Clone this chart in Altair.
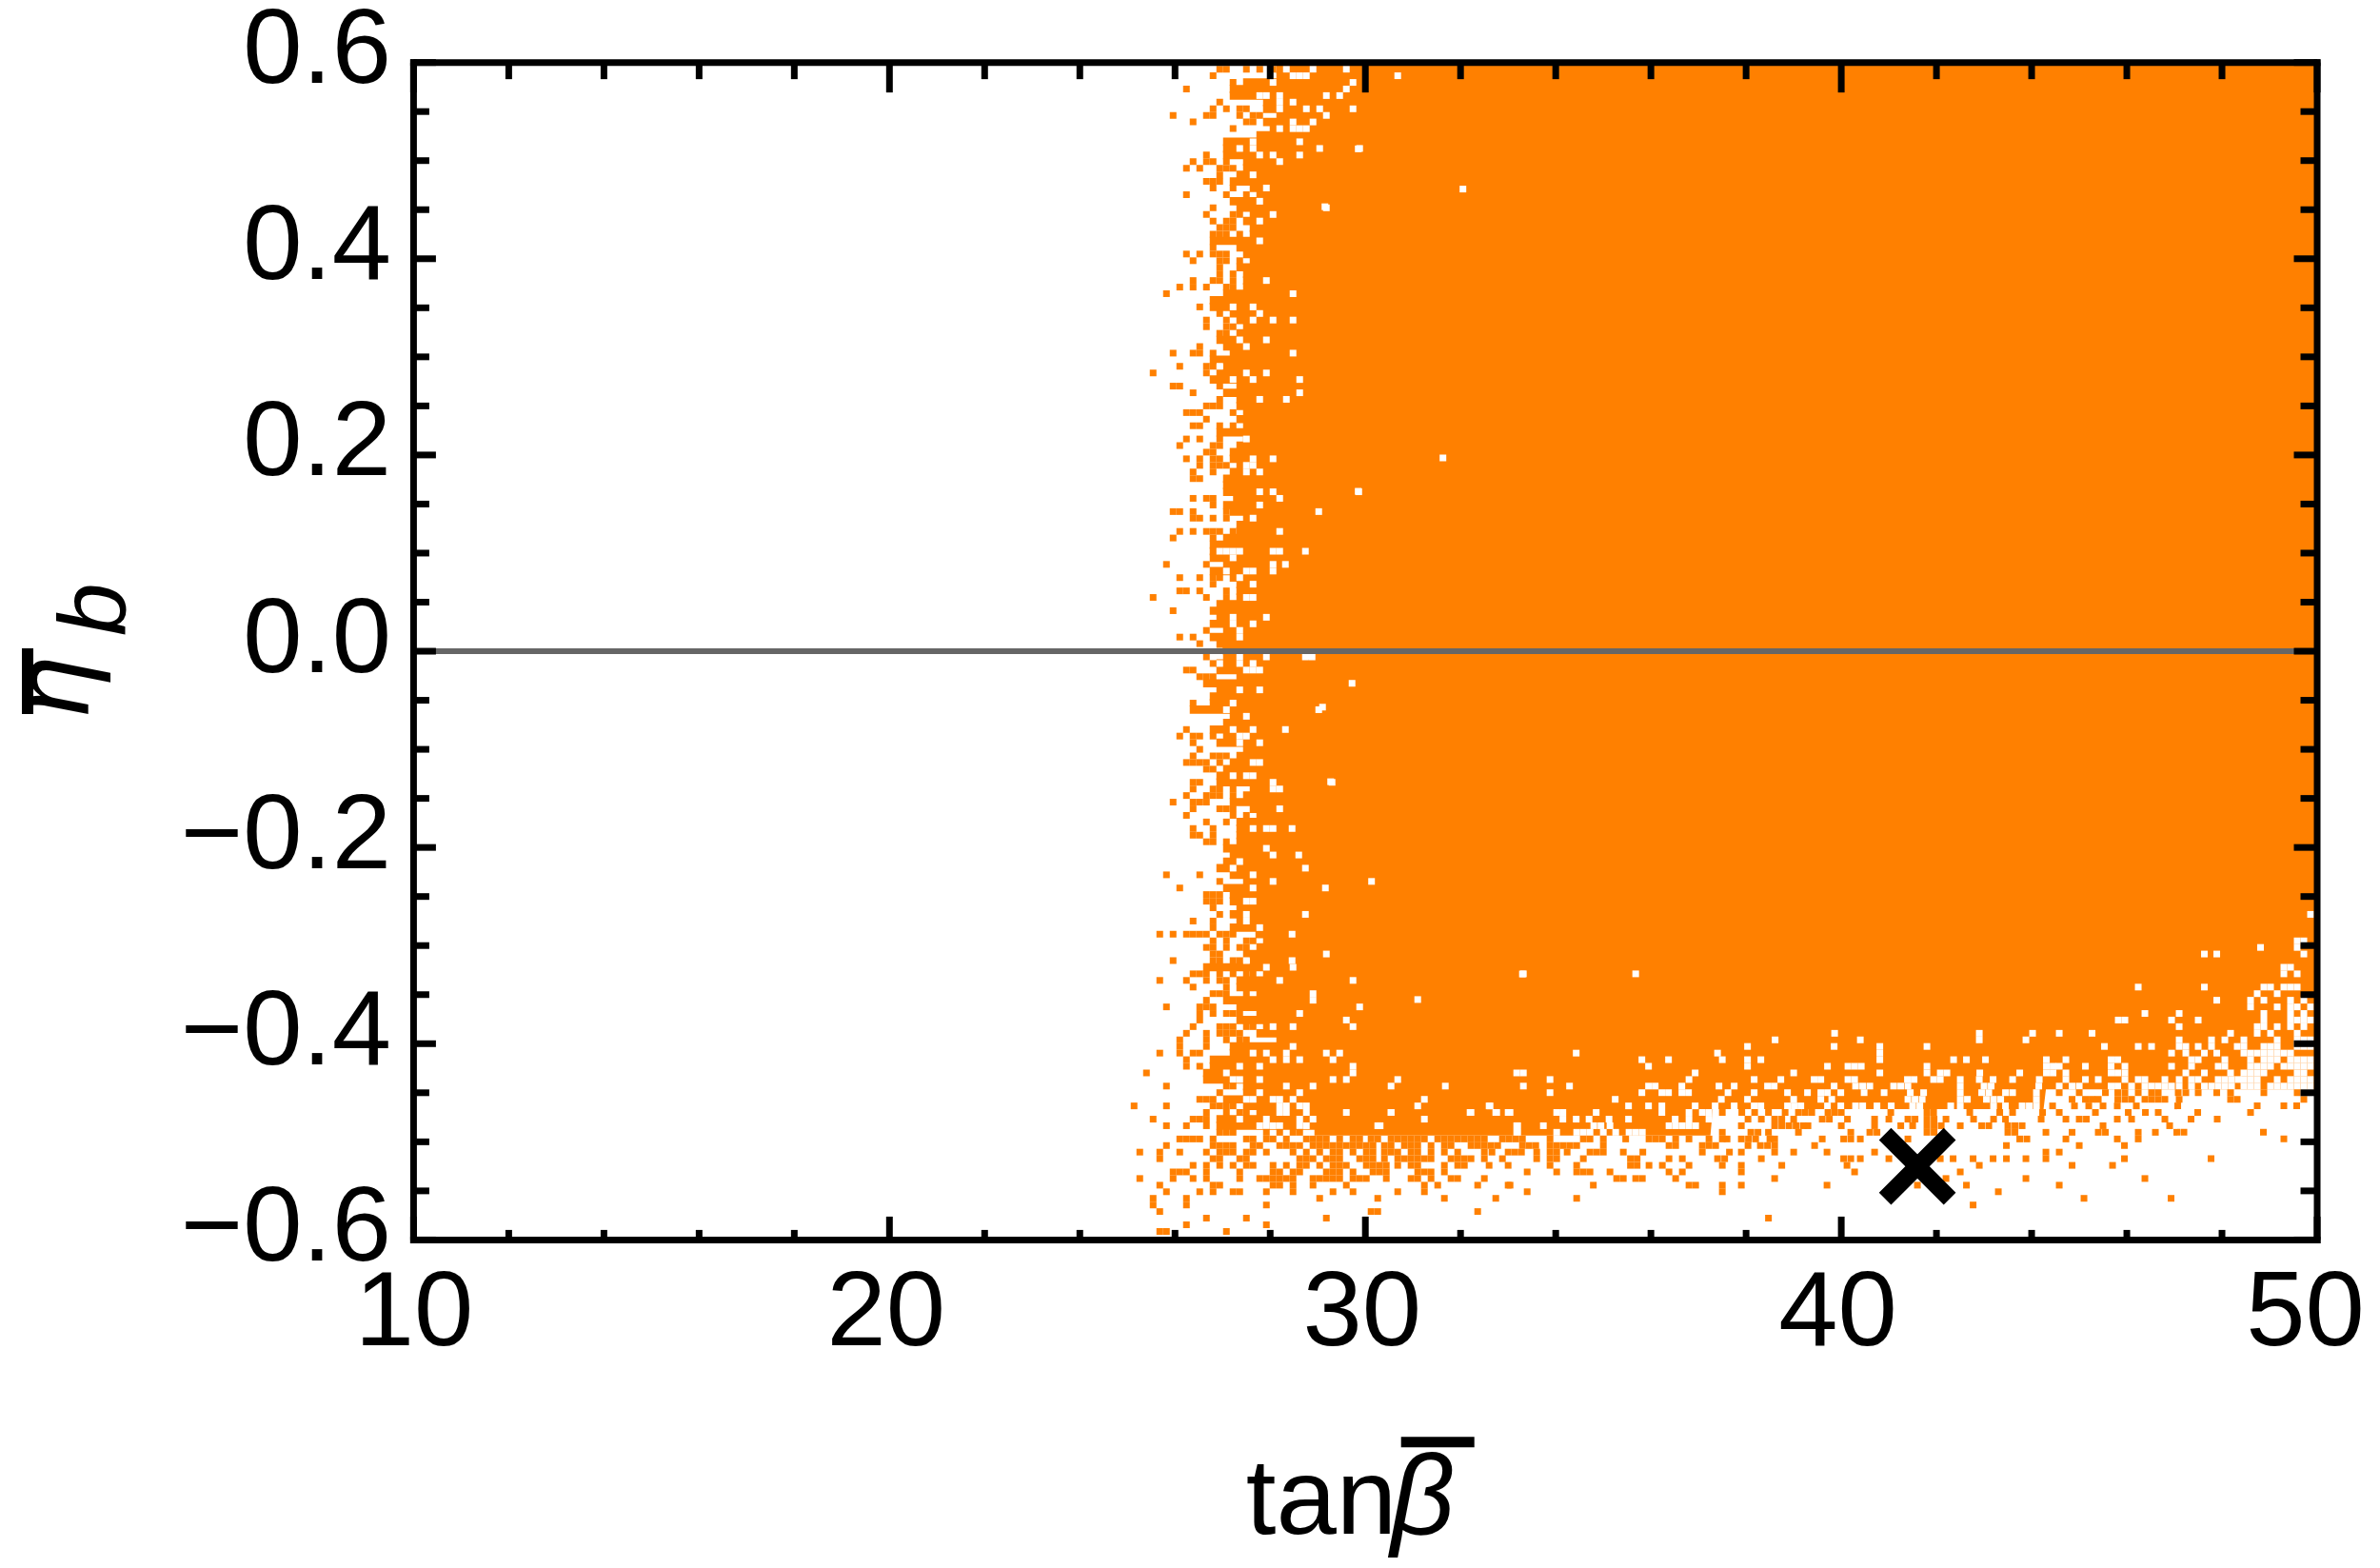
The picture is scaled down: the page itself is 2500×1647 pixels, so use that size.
import altair as alt
import pandas as pd

ORANGE = "#ff8000"
x_major = [10, 20, 30, 40, 50]
x_minor = [12, 14, 16, 18, 22, 24, 26, 28, 32, 34, 36, 38, 42, 44, 46, 48]
y_major = [-0.6, -0.4, -0.2, 0.0, 0.2, 0.4, 0.6]
y_minor = [-0.55, -0.5, -0.45, -0.35, -0.3, -0.25, -0.15, -0.1, -0.05, 0.05, 0.1, 0.15, 0.25, 0.3, 0.35, 0.45, 0.5, 0.55]

# body: tanb, lower edge of the solid orange
body_tanb = [28.93, 37.25, 37.3, 44.25, 44.3, 50.0]
body_eta = [-0.4937, -0.4937, -0.4668, -0.4668, -0.4466, -0.4466]

# eta of row, tanb where the solid part of the row starts, stray orange cells, white cells
rows = [
(.5932,28.13,[26.94,27.08,27.50,27.78,28.06],[28.34,28.90,29.60]),
(.5865,28.13,[26.80],[28.48,28.62,28.76,30.68]),
(.5797,27.43,[27.22],[28.06,29.74]),
(.5730,27.15,[26.24],[29.60]),
(.5663,27.15,[],[27.78,27.92,28.20,29.18,29.46]),
(.5596,27.85,[26.94],[28.20,28.48]),
(.5528,27.85,[26.80,27.08,27.36,27.50],[28.20,28.76,29.04,29.74]),
(.5461,28.13,[25.96,26.66,26.80,27.36,27.64,27.78],[29.18]),
(.5394,27.85,[26.38,27.50,27.64],[28.48,28.90]),
(.5326,27.99,[27.22],[28.20,28.48,28.62,28.76]),
(.5259,27.71,[],[]),
(.5192,27.01,[],[27.64,28.62]),
(.5124,27.01,[],[27.36,27.64,29.04,29.88]),
(.5057,27.01,[26.66],[27.78,28.06,28.62]),
(.4990,27.43,[26.38,26.66,26.80,27.08],[28.20]),
(.4923,27.43,[26.24,26.52,26.94,27.08,27.22],[]),
(.4855,27.29,[26.94],[27.64]),
(.4788,27.15,[26.66,26.80,26.94],[]),
(.4721,27.57,[26.80,27.22],[27.92]),
(.4653,27.71,[26.24,27.08,27.50],[]),
(.4586,27.15,[],[27.78]),
(.4519,27.29,[26.80],[29.18]),
(.4451,27.57,[26.66,27.22,27.36],[28.06]),
(.4384,27.43,[26.80,27.08,27.22],[27.78]),
(.4317,27.57,[26.94,27.08,27.22],[]),
(.4250,27.57,[26.80,26.94,27.08,27.36],[]),
(.4182,26.73,[],[27.78]),
(.4115,27.29,[26.80],[]),
(.4048,27.43,[26.24,26.52,26.80,26.94,27.08],[]),
(.3980,27.57,[26.38,26.94,27.08,27.36],[]),
(.3913,27.29,[26.94],[]),
(.3846,27.43,[26.94,27.22],[]),
(.3778,27.43,[26.38,26.80,26.94,27.22],[27.92]),
(.3711,27.43,[26.10,26.38,26.66,27.08,27.22],[]),
(.3644,27.01,[25.82],[28.48]),
(.3577,26.73,[],[]),
(.3509,26.73,[26.52],[27.22,27.64]),
(.3442,27.15,[26.94],[27.78]),
(.3375,27.29,[26.66,27.08],[27.64,28.06,28.48]),
(.3307,27.43,[26.66,27.08,27.22],[]),
(.3240,27.29,[26.94,27.08],[]),
(.3173,26.87,[],[27.36,27.92]),
(.3105,27.01,[26.52],[27.50]),
(.3038,27.15,[25.96,26.38,26.52,26.80],[28.48]),
(.2971,26.73,[],[]),
(.2904,27.01,[26.10,26.66,26.80],[26.94]),
(.2836,26.87,[25.54,26.66],[27.50,27.92]),
(.2769,26.73,[],[27.22,27.64,28.62]),
(.2702,27.29,[25.96,26.10,26.94],[]),
(.2634,27.01,[26.38],[28.62]),
(.2567,27.29,[26.94],[27.78,28.34]),
(.2500,27.29,[26.66,26.80,26.94],[]),
(.2432,27.43,[26.24,26.38,26.52,27.22],[]),
(.2365,27.29,[26.66],[]),
(.2298,27.43,[26.38,26.52,26.94,27.22],[]),
(.2231,26.87,[],[]),
(.2163,27.43,[26.24,26.52,26.94],[27.50]),
(.2096,27.29,[26.10,26.80,26.94],[]),
(.2029,27.15,[26.66,26.80],[]),
(.1961,27.15,[26.24,26.52,26.80,26.94],[27.64,28.06]),
(.1894,27.29,[26.52,26.80,26.94,27.08],[27.50,27.64]),
(.1827,27.15,[26.38,26.80],[27.50,27.78]),
(.1759,27.01,[26.38,26.52],[]),
(.1692,27.01,[],[]),
(.1625,27.01,[],[27.78,28.06,29.86]),
(.1558,27.22,[26.38,26.66,26.80],[28.20]),
(.1490,27.01,[26.80],[27.78]),
(.1423,27.15,[25.96,26.10,26.38,27.08],[29.02]),
(.1356,27.43,[26.38,26.52,26.80,27.08],[27.64]),
(.1288,27.29,[],[]),
(.1221,27.29,[26.10,26.38,26.66,26.80,26.94,27.22],[28.20]),
(.1154,27.01,[25.96,26.80],[]),
(.1086,26.73,[],[]),
(.1019,26.73,[],[26.94,27.08,27.22,27.36,28.06,28.20,28.74]),
(.0952,26.73,[],[27.22]),
(.0885,27.01,[25.82,26.66],[28.06,28.32]),
(.0817,26.73,[],[27.08,27.50,27.64,28.06]),
(.0750,27.15,[26.10,26.52,26.80,26.94],[27.36]),
(.0683,27.29,[26.80],[27.64]),
(.0615,27.29,[26.10,26.24,26.52,27.08],[]),
(.0548,27.29,[25.54,26.66,27.08],[27.50,27.64]),
(.0481,26.87,[],[]),
(.0413,26.73,[25.96],[]),
(.0346,26.87,[],[27.22,27.92]),
(.0279,26.73,[],[27.22,27.64]),
(.0212,27.01,[26.66],[27.36]),
(.0144,26.73,[26.10,26.38],[27.36]),
(.0077,26.87,[26.52],[]),
(.0010,27.0,[],[]),
(-.0058,27.01,[26.66],[27.36,27.92,28.74,28.88]),
(-.0125,26.87,[26.80],[26.94,27.36,27.64]),
(-.0192,26.87,[26.24,26.38],[27.50,27.64,27.78]),
(-.0260,27.29,[26.52,26.66,26.80],[]),
(-.0327,26.59,[],[29.72]),
(-.0394,26.87,[],[27.36,27.78]),
(-.0461,26.73,[],[]),
(-.0529,26.73,[26.38],[27.22]),
(-.0596,26.31,[],[27.08,29.02]),
(-.0663,27.15,[],[27.50]),
(-.0731,27.01,[],[]),
(-.0798,26.73,[26.24],[27.22,27.64,28.32]),
(-.0865,27.01,[26.10,26.38,26.52,26.80],[27.36,27.50]),
(-.0933,26.87,[26.38],[27.36,27.78]),
(-.1000,27.43,[26.52],[]),
(-.1067,27.29,[26.38,26.80,26.94,27.08],[]),
(-.1134,27.15,[26.24,26.38,26.52,26.66,26.94],[27.64,27.78]),
(-.1202,27.01,[26.66,26.80],[]),
(-.1269,26.87,[],[27.22,27.50,27.64]),
(-.1336,26.87,[26.38,26.52],[28.06,29.30]),
(-.1404,27.57,[26.38,26.80,26.94,27.22],[28.06,28.20]),
(-.1471,27.43,[26.24,26.66,26.80,26.94,27.22],[]),
(-.1538,27.15,[25.96,26.38,26.52,26.66],[]),
(-.1606,27.57,[26.38,26.94,27.08,27.22],[28.20]),
(-.1673,27.71,[26.24,27.22,27.50],[]),
(-.1740,27.29,[26.66,27.08],[]),
(-.1807,27.29,[26.38,26.80],[27.64,27.92,28.06,28.46]),
(-.1875,27.29,[26.38,26.52,26.80],[]),
(-.1942,27.29,[26.66,26.80,27.08],[]),
(-.2009,27.01,[],[27.92]),
(-.2077,27.15,[],[28.06,28.60]),
(-.2144,27.01,[],[27.36]),
(-.2211,26.87,[],[27.22,28.74]),
(-.2279,27.15,[25.82,26.52],[27.64]),
(-.2346,27.43,[26.94],[28.06,30.13]),
(-.2413,27.01,[26.10],[27.64,29.16]),
(-.2480,27.15,[26.66,26.80,26.94],[]),
(-.2548,27.15,[26.66,26.80,26.94],[27.50,27.64]),
(-.2615,27.29,[26.80],[]),
(-.2682,27.15,[26.94],[27.50,28.74]),
(-.2750,27.29,[26.38,26.80],[27.50]),
(-.2817,27.15,[26.80],[27.78]),
(-.2884,27.69,[25.68,25.96,26.24,26.38,26.52,26.66,26.94,27.08,27.22],[28.46]),
(-.2952,27.85,[26.80,27.08,27.50,27.64],[]),
(-.3019,27.71,[26.66,26.80,27.08,27.36,27.50],[]),
(-.3086,27.43,[26.80,26.94],[29.18]),
(-.3153,27.57,[25.96,26.80,26.94,27.22,27.36],[27.50,28.46]),
(-.3221,26.59,[],[27.92,28.48]),
(-.3288,27.85,[26.38,26.52,26.66,26.94,27.22,27.50,27.64],[]),
(-.3355,27.29,[25.68,26.24,26.66,26.94,27.08],[28.20,29.74]),
(-.3423,27.29,[26.38,27.08],[]),
(-.3490,27.71,[26.80,26.94,27.08,27.50],[28.90]),
(-.3557,27.01,[26.66],[28.90]),
(-.3625,27.29,[25.82,26.52,26.66,26.80],[29.88]),
(-.3692,27.71,[26.52,26.80,27.08,27.22,27.36],[28.62]),
(-.3759,27.29,[26.52],[29.60]),
(-.3826,27.85,[26.38,26.94,27.08,27.22,27.50,27.64],[28.06,28.48,29.74]),
(-.3894,27.71,[26.24,26.66,26.94,27.08,27.22,27.36],[]),
(-.3961,28.13,[26.10,26.66,27.08,27.36,27.50],[]),
(-.4028,27.15,[26.10,26.66],[28.48]),
(-.4096,27.15,[25.68,26.10,26.38,26.52],[27.64,27.92,28.34,29.18,29.46]),
(-.4163,26.73,[26.24],[28.06,28.34,28.62,29.32]),
(-.4230,26.73,[26.24,26.52],[27.36,27.78,29.74]),
(-.4298,26.59,[25.40],[27.08,29.74]),
(-.4365,26.59,[],[27.22,27.36,27.78,29.32,29.60,30.68]),
(-.4432,27.43,[25.82,27.08,27.22],[28.34,28.90,30.54,31.68]),
(-.4499,27.43,[26.94],[27.78,28.62]),
(-.4567,27.01,[26.52,26.66,26.80],[27.50,27.64,28.06,28.20,28.48,31.24]),
(-.4634,27.43,[25.14,25.82,26.80,26.94,27.08,27.22],[28.20,28.34,28.62,28.76,31.10,32.60]),
(-.4701,27.71,[26.66,27.08,27.36,27.50],[28.20,28.34,28.76,29.60,30.54,32.20,32.74,33.00]),
(-.4769,26.87,[25.54,26.38,26.52,26.66],[27.36,27.92,28.62,28.90,31.24]),
(-.4836,26.87,[25.82,26.24,26.66],[27.78,27.92,28.06,28.20,28.62,28.76,30.26,33.20]),
(-.4903,29.0,[26.94,27.08,27.22,27.92,28.20,28.48,28.62],[33.20]),
(-.4971,29.0,[26.10,26.24,26.38,26.52,26.80,27.50,27.64,27.92,28.06,28.34,28.76,28.90,29.04,29.18,29.46,29.74,29.88,30.12,30.26,30.54,30.68,30.82,30.96,31.10,31.24,31.52,31.66,31.80,31.94,32.08,32.22,32.36,32.50,32.88,33.02,33.16,33.30],[]),
(-.5038,29.0,[25.82,26.80,26.94,27.08,27.22,27.64,27.78,28.20,28.34,28.48,28.62,28.90,29.04,29.18,29.32,29.46,29.60,29.74,29.88,30.02,30.16,30.40,30.54,30.82,30.96,31.10,31.38,31.66,31.80,32.22,32.36,32.50,32.64,32.78],[]),
(-.5105,29.0,[25.26,25.68,26.10,26.66,26.94,27.08,27.22,27.50,27.64,27.92,28.48,28.76,29.04,29.32,29.46,29.74,30.02,30.16,30.40,30.54,30.68,30.96,31.10,31.38,31.66,31.94,32.50,32.66,33.00,33.14,33.28],[]),
(-.5172,29.0,[25.68,26.80,26.94,27.36,27.50,28.62,28.76,28.90,29.18,29.32,29.46,29.88,30.02,30.16,30.40,30.68,30.82,30.96,31.10,31.24,31.38,31.80,31.94,32.08,32.22,32.50,32.88],[]),
(-.5240,29.0,[26.38,26.66,26.94,27.22,27.50,27.64,28.06,28.34,28.62,28.76,29.04,29.32,29.46,29.60,30.02,30.16,30.30,30.44,30.68,30.96,31.10,31.66,31.94,32.08,32.60,33.00],[]),
(-.5307,29.0,[25.96,26.10,26.24,26.66,27.36,28.06,28.20,28.48,28.62,29.18,29.32,29.46,29.74,30.16,30.30,30.44,31.10,31.24,31.38,31.66],[]),
(-.5374,29.0,[25.26,25.96,26.38,26.66,27.36,27.78,27.92,28.06,28.20,28.34,28.48,28.90,29.04,29.18,29.32,29.46,29.74,29.88,30.02,30.44,30.96,31.10,31.38,31.80,31.94,32.50],[]),
(-.5442,29.0,[25.68,26.80,26.94,28.06,28.20,28.48,28.90,29.60,31.24,31.52,32.36,33.00],[]),
(-.5509,29.0,[25.82,26.52,26.80,27.22,27.36,27.92,28.48,29.32,29.74,30.68,31.24],[]),
(-.5576,29.0,[25.54,26.24,29.04,30.26,31.66,32.74],[]),
(-.5644,29.0,[25.54,26.24,27.92],[]),
(-.5711,29.0,[25.68,30.12,30.26,32.36],[]),
(-.5778,29.0,[26.66,27.50,29.18],[]),
(-.5845,29.0,[26.24,27.92],[]),
(-.5913,29.0,[25.68,25.82,27.08],[]),
]

# further cells to the right, eta of row with its tanb values
extra_white = [
(.4710,[32.05]),(.4530,[29.15]),(.5120,[29.85]),(.1970,[31.63]),(.1630,[29.85]),(-.0570,[29.10]),
(-.1330,[29.27]),(-.0050,[28.80]),(-.3290,[33.30]),(-.3550,[31.10]),
(-.3288,[33.32,35.68]),
(-.3894,[39.86,42.90,44.02]),
(-.3961,[38.61,40.40,42.90,43.88]),
(-.4028,[38.03,39.85,40.81,41.80]),
(-.4096,[34.43,37.40,40.81]),
(-.4163,[35.81,36.37,37.50,38.03,38.31,40.81,42.36,42.63,43.03]),
(-.4230,[35.95,38.03,39.71,40.14,40.28,40.42,41.80]),
(-.4298,[33.18,33.32,36.93,39.00,40.81,41.80,42.08,42.22,42.91,43.75]),
(-.4365,[33.88,36.80,38.17,38.73,39.43,39.57,40.14,40.28,41.39,41.53,41.94,42.08,42.50,42.90,43.19,43.60,44.16]),
(-.4432,[33.32,34.29,35.95,36.09,36.65,37.43,37.75,38.45,38.59,39.85,40.30,40.45,40.60,41.10,41.25,41.40,42.50,43.00,43.15,44.15]),
(-.4499,[33.88,35.81,36.23,36.37,36.65,36.79,37.62,38.17,38.87,39.29,39.57,39.71,39.99,40.48,40.90,41.45,41.73,42.50,42.95,43.10,43.45,43.60,44.10]),
(-.4567,[35.25,37.48,38.03,39.00,39.57,39.80,41.40,41.55,41.70,42.50,42.65,43.05,43.20,43.35,44.10]),
(-.4634,[32.62,35.53,35.95,36.23,36.93,37.35,37.75,38.17,38.31,38.87,39.01,39.15,39.71,39.99,40.30,40.45,40.75,41.05,41.50,41.65,42.30,42.50,43.20,43.45,43.80,43.95,44.10]),
(-.4701,[30.54,32.22,32.76,33.04,34.02,34.15,34.85,36.23,36.80,37.08,37.22]),
(-.4769,[34.15,34.43,34.70,35.12,35.53,36.51,36.80,37.22]),
(-.4836,[30.31,33.18,33.74,34.80,34.95,35.14,36.38,36.52,36.66,36.80,36.94]),
(-.4903,[33.18,34.02,34.44,34.58,34.72,35.00,35.26,35.54,35.68,35.82]),
# lower right corner
(-.2682,[49.86]),(-.2952,[49.58,49.72]),(-.3019,[48.81,49.58]),(-.3086,[47.63,47.89,49.72]),
(-.3221,[49.30,49.44]),(-.3288,[49.30,49.58]),
(-.3423,[46.24,47.63,48.88,49.02,49.30,49.44,49.58]),(-.3490,[48.74,49.16]),
(-.3557,[47.89,48.60,48.88,49.44,49.72]),(-.3625,[48.60,49.16,49.44,49.58,49.86]),
(-.3692,[46.38,47.10,48.88,49.44,49.72]),(-.3759,[45.82,45.96,46.94,47.50,48.88,49.44,49.58,49.72,49.86]),
(-.3826,[47.10,48.74,48.88,49.16,49.44,49.72]),(-.3894,[44.58,45.27,48.18,48.74,49.02,49.58]),
(-.3961,[47.10,47.78,48.06,48.46,49.16,49.58,49.72,49.86]),
(-.4028,[45.53,46.24,46.52,47.10,47.24,47.50,47.78,48.32,48.46,48.88,49.02,49.16,49.58,49.72,49.86]),
(-.4096,[46.94,47.24,47.63,47.89,48.46,48.60,48.74,48.88,49.02,49.16,49.30,49.44]),
(-.4163,[44.31,44.72,45.67,45.81,47.36,47.50,48.06,48.60,48.88,49.02,49.16,49.44,49.58,49.72,49.86]),
(-.4230,[44.31,44.45,44.58,45.13,45.67,45.96,46.94,47.36,47.92,48.06,48.60,48.74,48.88,49.02,49.30,49.44,49.58,49.72,49.86]),
(-.4298,[44.31,44.45,44.72,45.67,45.81,45.96,47.24,47.63,48.18,48.46,48.60,48.74,48.88,49.58,49.72]),
(-.4365,[44.72,45.13,45.40,45.96,46.24,46.38,46.80,47.10,47.36,47.50,47.92,48.06,48.20,48.34,48.46,48.60,48.74,49.16,49.44,49.58,49.72,49.86]),
(-.4432,[44.58,44.85,45.00,45.67,45.81,46.10,46.38,46.52,46.66,46.80,46.94,47.10,47.36,47.63,47.78,47.92,48.06,48.20,48.46,48.60,48.74,49.02,49.16,49.30,49.44,49.58,49.72,49.86]),
]
extra_orange = [
(-.4499,[44.58,45.00,45.55,45.81,45.96,46.24,46.52,46.66,47.08,47.24,47.50,47.89,48.18,48.88,49.58]),
(-.4567,[44.85,45.13,45.27,45.40,45.81,45.96,46.10,46.38,46.52,46.66,46.80,47.10,48.18,48.32,49.72]),
(-.4634,[44.44,44.90,45.20,45.50,45.80,46.20,47.07,48.74,49.30,49.57]),
(-.4701,[37.50,37.91,38.18,38.47,38.82,39.10,39.24,39.38,39.72,39.86,40.00,41.04,41.80,41.94,42.70,43.33,43.60,44.23,44.58,45.34,46.03,46.39,46.66,47.49,48.60]),
(-.4769,[38.04,38.32,38.60,38.75,39.00,39.60,39.75,40.13,40.70,41.00,41.40,41.55,41.80,41.95,42.20,42.78,43.20,43.45,44.20,44.72,45.00,45.15,45.80,46.10,46.80,47.35,47.90]),
(-.4836,[37.90,38.60,38.75,38.90,39.05,39.20,39.30,40.00,40.70,41.25,41.50,41.80,41.95,42.10,42.50,42.95,43.10,43.50,43.65,43.80,45.50,46.90]),
(-.4903,[37.50,38.10,38.25,38.47,39.10,40.20,40.60,40.75,41.80,41.95,43.50,43.65,44.30,44.85,45.40,45.55,46.24,46.60,47.05,47.20,48.87]),
(-.4971,[33.88,34.58,34.72,35.00,35.47,35.96,36.10,36.24,36.52,36.80,37.22,37.50,37.60,37.90,38.05,38.20,38.50,38.60,39.60,40.05,40.20,40.40,41.40,43.75,43.90,44.72,45.80,46.24,49.30]),
(-.5038,[33.30,33.44,33.58,33.88,34.02,34.16,34.30,34.44,35.00,36.38,36.52,37.08,37.22,37.36,38.04,38.30,38.45,38.60,39.44,43.47,45.00,45.95]),
(-.5105,[33.60,33.88,34.02,34.24,34.72,34.86,35.00,35.42,35.83,37.08,37.65,37.90,38.60,39.00,39.70,40.70,44.30,44.58]),
(-.5172,[33.60,33.88,34.02,34.58,35.57,35.71,36.38,36.66,37.40,37.55,38.32,40.05,40.20,40.40,41.00,42.08,42.35,42.77,43.19,43.47,43.88,44.30,45.95,47.77]),
(-.5240,[33.88,34.44,35.57,35.71,35.96,36.24,36.80,37.50,37.90,38.75,40.12,42.90,44.85,45.70]),
(-.5307,[33.40,34.02,34.44,34.58,34.72,35.14,36.38,36.66,37.90,40.28,42.50]),
(-.5374,[35.28,35.42,35.68,35.82,36.52,38.60,42.20,43.88,46.38]),
(-.5442,[33.04,34.79,36.80,36.94,37.50,37.90,39.70,41.60,42.63,44.58]),
(-.5509,[33.40,37.50,43.30]),
(-.5576,[34.44,45.10,46.93]),
(-.5644,[42.77]),
(-.5778,[38.47]),
]

rect_rows, white_rows, orange_rows = [], [], []
for eta, edge, oranges, whites in rows:
    if edge < 29.0:
        rect_rows.append({"x": edge, "x2": 29.0, "y": eta + 0.0042, "y2": eta - 0.0042})
    white_rows += [{"x": t, "y": eta} for t in whites]
    orange_rows += [{"x": t, "y": eta} for t in oranges]
for eta, vals in extra_white:
    white_rows += [{"x": t, "y": eta} for t in vals]
for eta, vals in extra_orange:
    orange_rows += [{"x": t, "y": eta} for t in vals]

W, H = 2000, 1237
FONT = "Liberation Sans"
x_scale = alt.Scale(domain=[10, 50], nice=False, zero=False)
y_scale = alt.Scale(domain=[-0.6, 0.6], nice=False, zero=False)
x_axis = alt.Axis(values=x_major, title=None, grid=False, ticks=False, domain=False, format="d",
                  labelFont=FONT, labelFontSize=112, labelColor="black", labelPadding=22,
                  labelOffset={"condition": [{"test": "datum.value == 50", "value": -13},
                                             {"test": "datum.value == 10", "value": 0}], "value": -4},
                  labelOverlap=False, labelFlush=False, labelBound=False, labelLimit=500)
y_axis = alt.Axis(values=y_major, title=None, grid=False, ticks=False, domain=False, format=".1f",
                  labelFont=FONT, labelFontSize=112, labelColor="black", labelPadding=24,
                  labelOffset=-13, labelOverlap=False, labelFlush=False, labelBound=False, labelLimit=500)
X = alt.X("x:Q", scale=x_scale, axis=x_axis)
Y = alt.Y("y:Q", scale=y_scale, axis=y_axis)

body_df = pd.DataFrame({"x": body_tanb, "y": body_eta, "top": [0.6] * len(body_tanb)})
layers = [
    alt.Chart(pd.DataFrame(rect_rows)).mark_rect(color=ORANGE, strokeWidth=0).encode(
        x=X, x2="x2:Q", y=Y, y2="y2:Q"),
    alt.Chart(body_df).mark_area(color=ORANGE, opacity=1).encode(x=X, y=Y, y2="top:Q"),
    alt.Chart(pd.DataFrame(white_rows)).mark_square(size=49, color="white", opacity=1, strokeWidth=0).encode(x=X, y=Y),
    alt.Chart(pd.DataFrame(orange_rows)).mark_square(size=49, color=ORANGE, opacity=1, strokeWidth=0, clip=True).encode(x=X, y=Y),
    alt.Chart(pd.DataFrame({"y": [0.0]})).mark_rule(color="#666666", strokeWidth=6).encode(y=Y),
]

def xticks(vals, pos_a, pos_b):
    return alt.Chart(pd.DataFrame({"x": vals})).mark_rule(color="black", strokeWidth=7).encode(
        x=X, y=alt.value(pos_a), y2=alt.value(pos_b))

def yticks(vals, pos_a, pos_b):
    return alt.Chart(pd.DataFrame({"y": vals})).mark_rule(color="black", strokeWidth=7).encode(
        y=Y, x=alt.value(pos_a), x2=alt.value(pos_b))

layers += [
    xticks(x_minor, H, H - 10.5), xticks(x_major, H, H - 24.5),
    xticks(x_minor, 0, 17.5), xticks(x_major, 0, 31.5),
    yticks(y_minor, 0, 16.5), yticks(y_major, 0, 23.5),
    yticks(y_minor, W, W - 17.5), yticks(y_major, W, W - 24.5),
]

one = pd.DataFrame({"a": [0]})
frame = [
    dict(x=alt.value(0), y=alt.value(-3.5), y2=alt.value(H + 3.5)),
    dict(x=alt.value(W), y=alt.value(-3.5), y2=alt.value(H + 3.5)),
    dict(y=alt.value(0), x=alt.value(-3.5), x2=alt.value(W + 3.5)),
    dict(y=alt.value(H), x=alt.value(-3.5), x2=alt.value(W + 3.5)),
]
layers += [alt.Chart(one).mark_rule(color="black", strokeWidth=7).encode(**f) for f in frame]

# best point marker
layers.append(alt.Chart(pd.DataFrame({"x": [41.6], "y": [-0.525]})).mark_point(
    shape="M-1,-1L1,1M-1,1L1,-1", size=4624, filled=False, color="black", opacity=1, strokeWidth=18
).encode(x=X, y=Y))

# axis titles
layers += [
    alt.Chart(one).mark_text(text="tan", font=FONT, fontSize=114, align="left", baseline="alphabetic", color="black").encode(
        x=alt.value(1309 - 434.5), y=alt.value(1611 - 65.5)),
    alt.Chart(one).mark_text(text="β", font=FONT, fontSize=118, fontStyle="italic", align="left", baseline="alphabetic", color="black").encode(
        x=alt.value(1461 - 434.5), y=alt.value(1611 - 65.5)),
    alt.Chart(one).mark_rule(color="black", strokeWidth=11).encode(
        x=alt.value(1472 - 434.5), x2=alt.value(1549 - 434.5), y=alt.value(1515 - 65.5)),
    alt.Chart(one).mark_text(text="η", font=FONT, fontSize=114, fontStyle="italic", angle=270, align="left", baseline="alphabetic", color="black").encode(
        x=alt.value(92 - 434.5), y=alt.value(752 - 65.5)),
    alt.Chart(one).mark_text(text="b", font=FONT, fontSize=100, fontStyle="italic", angle=270, align="left", baseline="alphabetic", color="black").encode(
        x=alt.value(132 - 434.5), y=alt.value(668 - 65.5)),
    alt.Chart(one).mark_rule(color="black", strokeWidth=12).encode(
        y=alt.value(681 - 65.5), y2=alt.value(750 - 65.5), x=alt.value(29 - 434.5)),
]

chart = alt.layer(*layers).properties(
    width=W, height=H,
    padding={"left": 426.5, "top": 57.5, "right": 58, "bottom": 336},
    autosize=alt.AutoSizeParams(type="none"),
    background="white",
).configure_view(stroke=None)

chart.save("out.html", embed_options={"renderer": "svg", "actions": False})
